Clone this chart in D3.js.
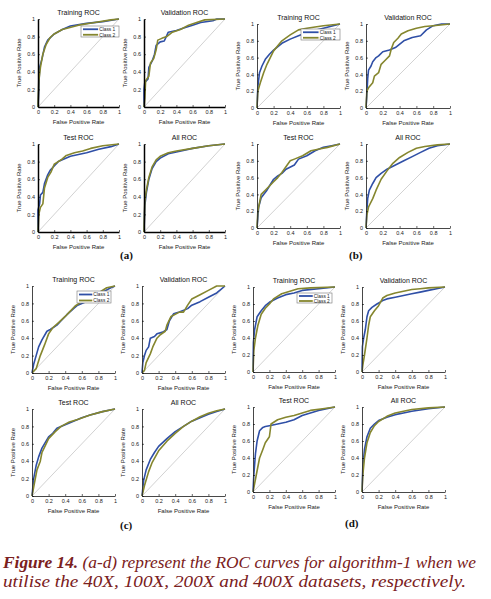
<!DOCTYPE html>
<html><head><meta charset="utf-8">
<script src="https://cdn.jsdelivr.net/npm/d3@7"></script>
<style>body{margin:0;background:#fff}svg{display:block}</style>
</head><body>
<script>
// ---------- DATA (fpr, tpr pairs) ----------
const panelTitles = ["Training ROC","Validation ROC","Test ROC","All ROC"];
const seriesNames = ["Class 1","Class 2"];
const tickValues = [0,0.2,0.4,0.6,0.8,1];
const tickLabels = ["0","0.2","0.4","0.6","0.8","1"];
const groupLabels = ["(a)","(b)","(c)","(d)"];

const aTrainC1=[[0,0],[0.01,0.2],[0.02,0.45],[0.05,0.55],[0.08,0.68],[0.12,0.76],[0.2,0.83],[0.3,0.88],[0.4,0.92],[0.6,0.95],[0.8,0.97],[1,1]];
const aTrainC2=[[0,0],[0.01,0.3],[0.03,0.45],[0.06,0.6],[0.1,0.71],[0.15,0.79],[0.2,0.83],[0.3,0.88],[0.5,0.93],[0.7,0.96],[0.9,0.99],[1,1]];
const aValC1=[[0,0],[0,0.2],[0.01,0.28],[0.05,0.32],[0.06,0.45],[0.1,0.52],[0.13,0.6],[0.15,0.7],[0.2,0.74],[0.25,0.75],[0.3,0.85],[0.4,0.87],[0.5,0.9],[0.6,0.93],[0.7,0.96],[0.85,0.98],[0.9,1],[1,1]];
const aValC2=[[0,0],[0.01,0.1],[0.02,0.3],[0.06,0.35],[0.08,0.5],[0.12,0.55],[0.15,0.65],[0.17,0.76],[0.22,0.78],[0.28,0.8],[0.35,0.85],[0.45,0.88],[0.55,0.93],[0.65,0.96],[0.75,0.99],[1,1]];
const aTestC1=[[0,0],[0,0.25],[0.02,0.32],[0.03,0.42],[0.06,0.45],[0.08,0.55],[0.12,0.65],[0.15,0.7],[0.2,0.75],[0.25,0.8],[0.3,0.82],[0.4,0.86],[0.5,0.88],[0.6,0.9],[0.75,0.94],[0.9,0.97],[1,1]];
const aTestC2=[[0,0],[0.01,0.2],[0.03,0.28],[0.06,0.32],[0.08,0.5],[0.12,0.62],[0.16,0.68],[0.2,0.77],[0.25,0.8],[0.3,0.83],[0.35,0.87],[0.45,0.9],[0.55,0.92],[0.65,0.95],[0.8,0.98],[1,1]];
const aAllC1=[[0,0],[0.01,0.3],[0.03,0.45],[0.06,0.6],[0.1,0.72],[0.15,0.8],[0.2,0.84],[0.3,0.89],[0.4,0.91],[0.6,0.95],[0.8,0.98],[1,1]];
const aAllC2=[[0,0],[0.01,0.35],[0.03,0.48],[0.06,0.62],[0.1,0.74],[0.15,0.82],[0.2,0.86],[0.3,0.9],[0.4,0.92],[0.6,0.95],[0.8,0.98],[1,1]];

const bTrainC1=[[0,0],[0.01,0.25],[0.03,0.42],[0.06,0.5],[0.1,0.58],[0.15,0.64],[0.2,0.69],[0.3,0.77],[0.4,0.82],[0.5,0.86],[0.6,0.9],[0.8,0.95],[1,1]];
const bTrainC2=[[0,0],[0.01,0.2],[0.04,0.3],[0.08,0.42],[0.12,0.52],[0.2,0.68],[0.3,0.8],[0.4,0.87],[0.5,0.93],[0.6,0.95],[0.8,0.98],[1,1]];
const bValC1=[[0,0],[0.01,0.15],[0.02,0.35],[0.03,0.45],[0.06,0.5],[0.08,0.55],[0.12,0.6],[0.15,0.62],[0.2,0.67],[0.28,0.69],[0.35,0.72],[0.45,0.8],[0.55,0.84],[0.65,0.86],[0.72,0.93],[0.8,0.98],[0.9,1],[1,1]];
const bValC2=[[0,0],[0.01,0.2],[0.03,0.24],[0.08,0.3],[0.1,0.38],[0.15,0.42],[0.18,0.52],[0.22,0.56],[0.28,0.62],[0.3,0.7],[0.33,0.78],[0.38,0.83],[0.42,0.88],[0.5,0.92],[0.6,0.95],[0.7,0.97],[0.8,0.98],[1,1]];
const bTestC1=[[0,0],[0.01,0.12],[0.02,0.25],[0.05,0.36],[0.08,0.4],[0.12,0.45],[0.15,0.5],[0.2,0.58],[0.25,0.62],[0.3,0.65],[0.35,0.7],[0.45,0.75],[0.5,0.82],[0.6,0.86],[0.7,0.92],[0.8,0.96],[0.9,0.98],[1,1]];
const bTestC2=[[0,0],[0.01,0.2],[0.03,0.3],[0.05,0.4],[0.1,0.45],[0.15,0.5],[0.2,0.55],[0.25,0.6],[0.3,0.66],[0.4,0.8],[0.45,0.82],[0.55,0.86],[0.65,0.92],[0.75,0.94],[0.85,0.96],[1,1]];
const bAllC1=[[0,0],[0.01,0.2],[0.02,0.35],[0.04,0.45],[0.08,0.53],[0.12,0.6],[0.18,0.65],[0.25,0.7],[0.35,0.75],[0.45,0.8],[0.55,0.85],[0.65,0.9],[0.75,0.95],[0.85,0.98],[1,1]];
const bAllC2=[[0,0],[0.01,0.15],[0.03,0.25],[0.08,0.35],[0.12,0.45],[0.18,0.58],[0.25,0.68],[0.32,0.77],[0.4,0.84],[0.5,0.9],[0.6,0.95],[0.7,0.97],[0.85,0.99],[1,1]];

const cTrainC1=[[0,0],[0.02,0.1],[0.05,0.2],[0.08,0.3],[0.12,0.38],[0.18,0.48],[0.22,0.5],[0.3,0.55],[0.35,0.6],[0.42,0.67],[0.5,0.74],[0.55,0.78],[0.65,0.82],[0.75,0.88],[0.85,0.93],[0.95,0.98],[1,1]];
const cTrainC2=[[0,0],[0.05,0.05],[0.1,0.2],[0.15,0.32],[0.2,0.45],[0.25,0.52],[0.32,0.58],[0.4,0.65],[0.45,0.7],[0.52,0.77],[0.6,0.82],[0.7,0.87],[0.8,0.92],[0.9,0.98],[1,1]];
const cValC1=[[0,0],[0.01,0.12],[0.03,0.2],[0.05,0.26],[0.08,0.3],[0.1,0.4],[0.15,0.42],[0.18,0.45],[0.25,0.47],[0.3,0.5],[0.33,0.6],[0.38,0.68],[0.45,0.7],[0.55,0.74],[0.6,0.78],[0.7,0.82],[0.8,0.87],[0.9,0.92],[1,1]];
const cValC2=[[0,0],[0.03,0.03],[0.05,0.12],[0.1,0.22],[0.13,0.3],[0.18,0.4],[0.22,0.44],[0.28,0.48],[0.3,0.55],[0.35,0.65],[0.45,0.7],[0.5,0.7],[0.55,0.78],[0.6,0.85],[0.7,0.9],[0.8,0.95],[0.9,1],[1,1]];
const cTestC1=[[0,0],[0.02,0.2],[0.05,0.35],[0.08,0.45],[0.12,0.55],[0.15,0.6],[0.2,0.68],[0.25,0.72],[0.3,0.78],[0.4,0.82],[0.5,0.86],[0.6,0.9],[0.7,0.93],[0.85,0.97],[1,1]];
const cTestC2=[[0,0],[0.03,0.15],[0.06,0.3],[0.1,0.4],[0.12,0.5],[0.16,0.58],[0.2,0.66],[0.28,0.74],[0.35,0.8],[0.45,0.85],[0.55,0.88],[0.7,0.93],[0.85,0.97],[1,1]];
const cAllC1=[[0,0],[0.02,0.18],[0.05,0.3],[0.1,0.42],[0.15,0.5],[0.2,0.57],[0.3,0.66],[0.4,0.74],[0.5,0.8],[0.6,0.86],[0.7,0.9],[0.8,0.94],[0.9,0.97],[1,1]];
const cAllC2=[[0,0],[0.03,0.12],[0.08,0.28],[0.12,0.38],[0.2,0.52],[0.3,0.63],[0.4,0.72],[0.5,0.8],[0.6,0.86],[0.7,0.91],[0.8,0.95],[0.9,0.98],[1,1]];

const dTrainC1=[[0,0],[0.005,0.35],[0.02,0.5],[0.05,0.65],[0.1,0.72],[0.15,0.78],[0.2,0.82],[0.3,0.87],[0.4,0.91],[0.5,0.93],[0.6,0.96],[0.8,0.98],[1,1]];
const dTrainC2=[[0,0],[0.01,0.25],[0.03,0.4],[0.06,0.55],[0.1,0.68],[0.15,0.75],[0.2,0.8],[0.25,0.86],[0.35,0.92],[0.45,0.95],[0.55,0.98],[0.7,0.99],[1,1]];
const dValC1=[[0,0],[0.005,0.3],[0.02,0.4],[0.04,0.5],[0.06,0.65],[0.08,0.72],[0.12,0.76],[0.18,0.8],[0.25,0.84],[0.3,0.86],[0.4,0.88],[0.5,0.9],[0.6,0.92],[0.7,0.94],[0.8,0.96],[0.9,0.98],[1,1]];
const dValC2=[[0,0],[0.01,0.08],[0.03,0.2],[0.06,0.4],[0.08,0.55],[0.1,0.65],[0.15,0.72],[0.2,0.78],[0.25,0.87],[0.3,0.9],[0.4,0.93],[0.5,0.95],[0.6,0.97],[0.7,0.98],[0.8,0.99],[1,1]];
const dTestC1=[[0,0],[0.01,0.2],[0.03,0.45],[0.05,0.6],[0.08,0.72],[0.12,0.76],[0.15,0.77],[0.2,0.78],[0.3,0.8],[0.4,0.82],[0.5,0.85],[0.6,0.9],[0.7,0.93],[0.8,0.96],[1,1]];
const dTestC2=[[0,0],[0.02,0.1],[0.05,0.25],[0.08,0.4],[0.12,0.5],[0.15,0.58],[0.2,0.65],[0.22,0.8],[0.3,0.85],[0.4,0.88],[0.5,0.9],[0.6,0.93],[0.7,0.96],[0.85,0.98],[1,1]];
const dAllC1=[[0,0],[0.01,0.3],[0.03,0.5],[0.06,0.65],[0.1,0.75],[0.15,0.8],[0.2,0.84],[0.3,0.88],[0.4,0.91],[0.5,0.93],[0.6,0.95],[0.8,0.98],[1,1]];
const dAllC2=[[0,0],[0.01,0.2],[0.03,0.4],[0.06,0.58],[0.1,0.7],[0.15,0.78],[0.2,0.83],[0.3,0.89],[0.4,0.93],[0.5,0.95],[0.6,0.97],[0.8,0.99],[1,1]];

const captionBold = "Figure 14.";
const captionLine1 = " (a-d) represent the ROC curves for algorithm-1 when we";
const captionLine2 = "utilise the 40X, 100X, 200X and 400X datasets, respectively.";

// ---------- LAYOUT ----------
const W=491,H=599;
const colors=["#2f4fa6","#85862e"];
const panels=[
 {x0:38,x1:119,y0:19,y1:107,t:0,c:[aTrainC1,aTrainC2],legend:{x:81,y:26,w:38,h:11},ax:"#000",aw:1.5},
 {x0:144,x1:225,y0:19,y1:107,t:1,c:[aValC1,aValC2],ax:"#000",aw:1.5},
 {x0:38,x1:119,y0:144,y1:232,t:2,c:[aTestC1,aTestC2],ax:"#000",aw:1.5},
 {x0:144,x1:225,y0:144,y1:232,t:3,c:[aAllC1,aAllC2],ax:"#000",aw:1.5},
 {x0:257,x1:340,y0:24,y1:108,t:0,c:[bTrainC1,bTrainC2],legend:{x:301,y:29,w:39,h:11}},
 {x0:366,x1:450,y0:24,y1:108,t:1,c:[bValC1,bValC2]},
 {x0:257,x1:340,y0:144,y1:228,t:2,c:[bTestC1,bTestC2]},
 {x0:366,x1:450,y0:144,y1:228,t:3,c:[bAllC1,bAllC2]},
 {x0:32,x1:115,y0:286,y1:373,t:0,c:[cTrainC1,cTrainC2],legend:{x:77,y:291,w:34,h:12}},
 {x0:142,x1:225,y0:286,y1:373,t:1,c:[cValC1,cValC2]},
 {x0:32,x1:115,y0:409,y1:496,t:2,c:[cTestC1,cTestC2]},
 {x0:142,x1:225,y0:409,y1:496,t:3,c:[cAllC1,cAllC2]},
 {x0:253,x1:335,y0:287,y1:372,t:0,c:[dTrainC1,dTrainC2],legend:{x:297,y:293,w:35,h:10}},
 {x0:362,x1:445,y0:287,y1:372,t:1,c:[dValC1,dValC2]},
 {x0:253,x1:335,y0:407,y1:492,t:2,c:[dTestC1,dTestC2]},
 {x0:362,x1:445,y0:407,y1:492,t:3,c:[dAllC1,dAllC2]}
];
const groupLabelPos=[[120,259],[349,259],[120,529],[345,527]];

const svg=d3.select("body").append("svg").attr("width",W).attr("height",H)
  .style("font-family","'Liberation Sans',Arial,sans-serif");

panels.forEach(p=>{
  const x=d3.scaleLinear().domain([0,1]).range([p.x0,p.x1]);
  const y=d3.scaleLinear().domain([0,1]).range([p.y1,p.y0]);
  const g=svg.append("g");
  g.append("line").attr("x1",x(0)).attr("y1",y(0)).attr("x2",x(1)).attr("y2",y(1))
    .attr("stroke","#d2d2d2").attr("stroke-width",1);
  const line=d3.line().x(d=>x(d[0])).y(d=>y(d[1]));
  p.c.forEach((s,i)=>{
    g.append("path").datum(s).attr("d",line).attr("fill","none")
      .attr("stroke",colors[i]).attr("stroke-width",1.6).attr("stroke-linejoin","round");
  });
  const xa=d3.axisBottom(x).tickValues(tickValues).tickFormat((d,i)=>tickLabels[i]).tickSizeInner(-2).tickSizeOuter(0).tickPadding(3);
  const ya=d3.axisLeft(y).tickValues(tickValues).tickFormat((d,i)=>tickLabels[i]).tickSizeInner(-2).tickSizeOuter(0).tickPadding(3);
  const gx=g.append("g").attr("transform",`translate(0,${p.y1})`).call(xa);
  const gy=g.append("g").attr("transform",`translate(${p.x0},0)`).call(ya);
  [gx,gy].forEach(a=>{
    a.selectAll("text").attr("font-size",5.5).attr("fill","#222");
    a.select(".domain").attr("stroke",p.ax||"#333").attr("stroke-width",p.aw||0.9);
    a.selectAll(".tick line").attr("stroke","#000").attr("stroke-width",0.6);
  });
  g.append("text").attr("x",(p.x0+p.x1)/2).attr("y",p.y0-4).attr("text-anchor","middle")
    .attr("font-size",7).attr("fill","#111").text(panelTitles[p.t]);
  g.append("text").attr("x",(p.x0+p.x1)/2).attr("y",p.y1+17).attr("text-anchor","middle")
    .attr("font-size",6).attr("fill","#222").text("False Positive Rate");
  g.append("text").attr("transform",`translate(${p.x0-17},${(p.y0+p.y1)/2}) rotate(-90)`)
    .attr("text-anchor","middle").attr("font-size",6).attr("fill","#222").text("True Positive Rate");
  if(p.legend){
    const L=p.legend;
    const lg=g.append("g");
    lg.append("rect").attr("x",L.x).attr("y",L.y).attr("width",L.w).attr("height",L.h)
      .attr("fill","#fff").attr("stroke","#777").attr("stroke-width",0.6);
    seriesNames.forEach((n,i)=>{
      const yy=L.y+L.h*(i+0.5)/2+0.5;
      lg.append("line").attr("x1",L.x+2).attr("x2",L.x+L.w*0.45).attr("y1",yy).attr("y2",yy)
        .attr("stroke",colors[i]).attr("stroke-width",1.8);
      lg.append("text").attr("x",L.x+L.w*0.48).attr("y",yy+1.8).attr("font-size",4.8)
        .attr("fill","#222").text(n);
    });
  }
});

groupLabels.forEach((t,i)=>{
  svg.append("text").attr("x",groupLabelPos[i][0]).attr("y",groupLabelPos[i][1])
    .attr("font-family","'Liberation Serif','Times New Roman',serif").attr("font-weight","bold")
    .attr("font-size",11).attr("fill","#111").text(t);
});

const cap=svg.append("g").attr("font-family","'Liberation Serif','Times New Roman',serif")
  .attr("font-style","italic").attr("font-size",17).attr("fill","#7a2020");
const t1=cap.append("text").attr("x",3).attr("y",568).attr("textLength",473).attr("lengthAdjust","spacingAndGlyphs");
t1.append("tspan").attr("font-weight","bold").text(captionBold);
t1.append("tspan").text(captionLine1);
cap.append("text").attr("x",3).attr("y",587).attr("textLength",463).attr("lengthAdjust","spacingAndGlyphs").text(captionLine2);
</script>
</body></html>
